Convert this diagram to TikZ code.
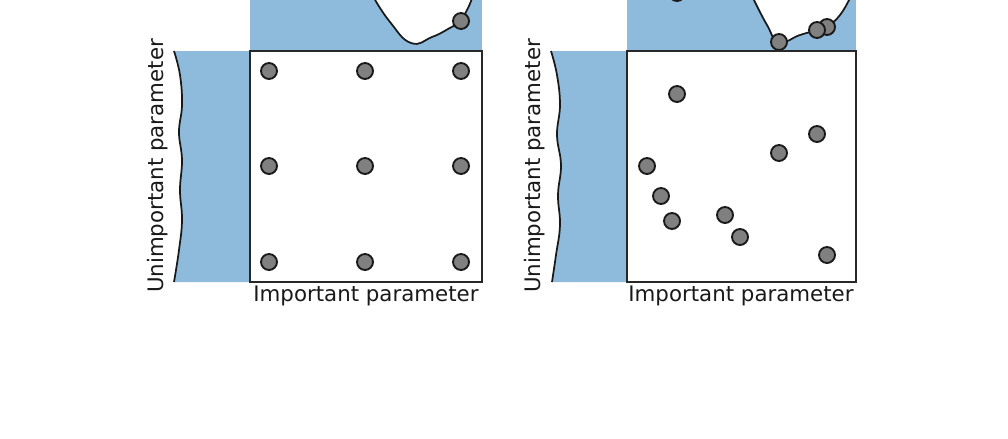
\documentclass[tikz,border=0pt]{standalone}
\usepackage{fontspec}
\setmainfont{DejaVu Sans}
\definecolor{bgblue}{RGB}{142,187,219}
\definecolor{dotgray}{RGB}{128,128,128}
\definecolor{frame}{RGB}{40,40,40}
\begin{document}
\begin{tikzpicture}[x=0.75pt,y=-0.75pt,
  dot/.style={circle,draw=black!90,line width=1.4pt,fill=dotgray,minimum size=12pt,inner sep=0pt},
  curve/.style={line width=1.3pt,draw=black!90},
  frm/.style={line width=1.2pt,draw=frame,fill=white},
  lbl/.style={font=\fontsize{16}{19}\selectfont,text=black!90,inner sep=0pt}]
\useasboundingbox (0,0) rectangle (1008,439);
\fill[white] (0,0) rectangle (1008,439);
\begin{scope}
\clip (0,0) rectangle (1008,439);
% ---------- left panel ----------
\fill[bgblue] (250,0) rectangle (482,51);
\fill[white] plot[smooth,tension=0.8] coordinates {(374,-2) (390,22) (411,43) (432,37) (448,29) (460,21) (468,8) (472,-2)} -- cycle;
\draw[curve] plot[smooth,tension=0.8] coordinates {(374,-2) (390,22) (411,43) (432,37) (448,29) (460,21) (468,8) (472,-2)};
\node[dot] (lt3) at (461,21) {};
\fill[bgblue] plot[smooth,tension=0.7] coordinates {(174,51) (180,75) (182,105) (179,132) (182,160) (180,190) (182,220) (179,250) (174,282)} -- (250,282) -- (250,51) -- cycle;
\draw[curve] plot[smooth,tension=0.7] coordinates {(174,51) (180,75) (182,105) (179,132) (182,160) (180,190) (182,220) (179,250) (174,282)};
\draw[frm] (250,51) rectangle (482,282);
\node[dot] (g11) at (269,71) {};
\node[dot] (g12) at (365,71) {};
\node[dot] (g13) at (461,71) {};
\node[dot] (g21) at (269,166) {};
\node[dot] (g22) at (365,166) {};
\node[dot] (g23) at (461,166) {};
\node[dot] (g31) at (269,262) {};
\node[dot] (g32) at (365,262) {};
\node[dot] (g33) at (461,262) {};
\node[lbl] (lx) at (366,296) {Important parameter};
\node[lbl,rotate=90] (ly) at (158,166) {Unimportant parameter};
% ---------- right panel ----------
\fill[bgblue] (627,0) rectangle (856,51);
\fill[white] plot[smooth,tension=0.8] coordinates {(753,-2) (767,25) (779,42) (800,35) (817,30) (827,27) (840,15) (850,-2)} -- cycle;
\draw[curve] plot[smooth,tension=0.8] coordinates {(753,-2) (767,25) (779,42) (800,35) (817,30) (827,27) (840,15) (850,-2)};
\node[dot] (rt0) at (677,-7) {};
\node[dot] (rt1) at (779,42) {};
\node[dot] (rt3) at (827,27) {};
\node[dot] (rt2) at (817,30) {};
\fill[bgblue] plot[smooth,tension=0.7] coordinates {(551,51) (557,75) (560,105) (557,135) (561,165) (558,195) (560,225) (556,255) (552,282)} -- (627,282) -- (627,51) -- cycle;
\draw[curve] plot[smooth,tension=0.7] coordinates {(551,51) (557,75) (560,105) (557,135) (561,165) (558,195) (560,225) (556,255) (552,282)};
\draw[frm] (627,51) rectangle (856,282);
\node[dot] (s1) at (677,94) {};
\node[dot] (s2) at (817,134) {};
\node[dot] (s3) at (779,153) {};
\node[dot] (s4) at (647,166) {};
\node[dot] (s5) at (661,196) {};
\node[dot] (s6) at (672,221) {};
\node[dot] (s7) at (725,215) {};
\node[dot] (s8) at (740,237) {};
\node[dot] (s9) at (827,255) {};
\node[lbl] (rx) at (741,296) {Important parameter};
\node[lbl,rotate=90] (ry) at (535,166) {Unimportant parameter};
\end{scope}
\end{tikzpicture}
\end{document}
